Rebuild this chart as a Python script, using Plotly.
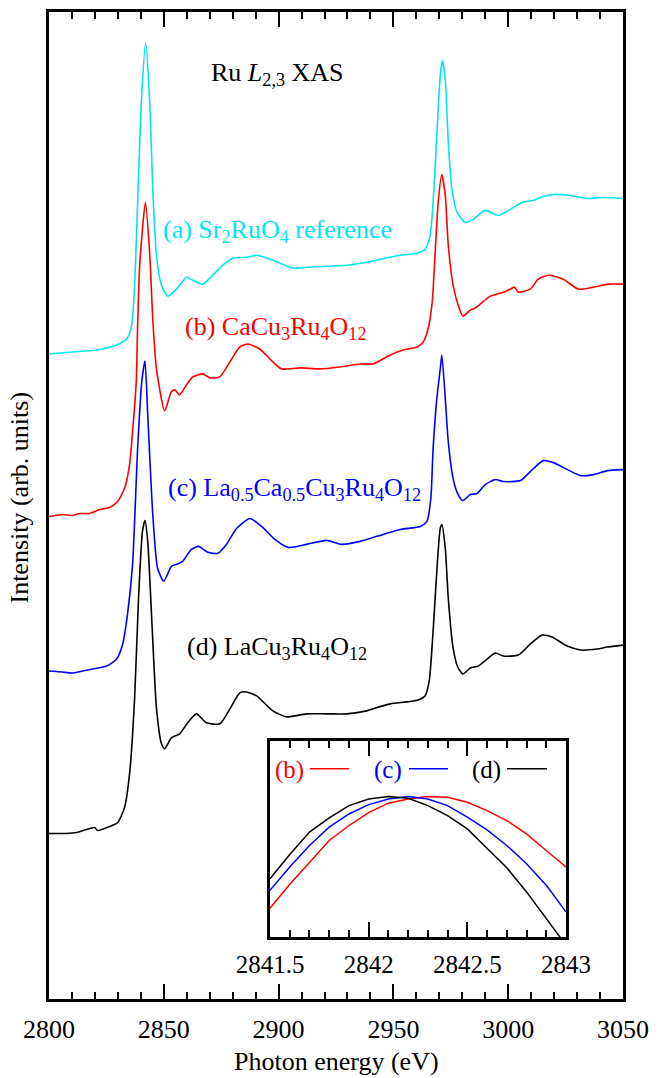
import plotly.graph_objects as go

# ---------------- main panel data (photon energy in eV, intensity in arb. units incl. offsets)
energy_a = [2800, 2810.3, 2820.7, 2829.5, 2833.8, 2836.0, 2837.3, 2838.6, 2840.2, 2842.1,
            2843.9, 2845.2, 2846.8, 2849.0, 2851.8, 2855.5, 2859.9, 2862.6, 2867.0, 2871.3,
            2875.7, 2880.1, 2886.2, 2890.5, 2897.5, 2906.2, 2912.3, 2921.1, 2929.8, 2938.5,
            2944.2, 2952.9, 2960.3, 2963.8, 2966.0, 2967.3, 2968.9, 2970.4, 2971.4, 2972.6,
            2974.0, 2975.5, 2977.7, 2981.3, 2984.8, 2990.0, 2995.7, 3000.9, 3006.0, 3011.0,
            3015.3, 3019.7, 3027.1, 3034.5, 3041.5, 3050]
intensity_a = [6.45, 6.47, 6.49, 6.54, 6.60, 6.74, 7.14, 7.97, 8.97, 9.57,
               8.97, 8.10, 7.44, 7.14, 7.03, 7.10, 7.22, 7.19, 7.15, 7.24,
               7.34, 7.41, 7.42, 7.44, 7.39, 7.31, 7.32, 7.33, 7.34, 7.37,
               7.40, 7.44, 7.46, 7.50, 7.64, 7.97, 8.64, 9.24, 9.39, 9.20,
               8.54, 8.10, 7.87, 7.77, 7.80, 7.89, 7.84, 7.90, 7.97, 7.99,
               8.03, 8.05, 8.04, 8.01, 8.02, 8.01]

energy_b = [2800, 2805.9, 2810.3, 2813.3, 2817.7, 2822.0, 2826.4, 2829.9, 2832.9, 2835.1,
            2836.4, 2838.0, 2838.5, 2839.5, 2842.0, 2843.9, 2845.2, 2846.8, 2850.4, 2853.3,
            2854.8, 2856.9, 2859.9, 2862.6, 2867.0, 2870.0, 2874.4, 2878.8, 2883.1, 2886.6,
            2891.8, 2897.5, 2901.3, 2909.3, 2918.0, 2926.7, 2935.5, 2941.1, 2948.6, 2954.2,
            2960.3, 2963.0, 2965.1, 2966.9, 2968.2, 2969.5, 2971.1, 2972.6, 2973.9, 2976.0,
            2978.2, 2980.3, 2983.5, 2985.6, 2987.8, 2992.2, 2997.9, 3000.9, 3002.7, 3004.4,
            3009.6, 3013.1, 3017.5, 3024.0, 3030.6, 3037.1, 3043.7, 3050]
intensity_b = [4.82, 4.84, 4.83, 4.85, 4.85, 4.89, 4.91, 4.97, 5.10, 5.34,
               5.67, 6.17, 6.64, 7.34, 7.97, 7.44, 6.80, 6.30, 5.88, 6.07,
               6.09, 6.04, 6.14, 6.22, 6.25, 6.21, 6.22, 6.37, 6.52, 6.55,
               6.50, 6.37, 6.30, 6.31, 6.30, 6.32, 6.35, 6.35, 6.44, 6.49,
               6.52, 6.57, 6.70, 6.97, 7.47, 7.97, 8.25, 8.04, 7.54, 7.14,
               6.94, 6.83, 6.89, 6.91, 6.95, 7.03, 7.07, 7.10, 7.12, 7.07,
               7.10, 7.20, 7.24, 7.20, 7.10, 7.12, 7.15, 7.15]

energy_c = [2800, 2805.9, 2809.8, 2814.6, 2819.0, 2825.1, 2829.5, 2832.1, 2834.2, 2836.4,
            2838.6, 2840.4, 2841.8, 2843.0, 2845.2, 2847.3, 2850.0, 2853.3, 2855.5, 2858.2,
            2862.0, 2865.2, 2869.2, 2873.5, 2877.3, 2881.7, 2887.5, 2892.6, 2898.4, 2904.1,
            2912.2, 2920.9, 2927.5, 2935.5, 2945.5, 2952.9, 2961.7, 2964.6, 2966.3, 2967.3,
            2968.9, 2970.4, 2971.1, 2972.6, 2973.9, 2976.0, 2978.2, 2980.3, 2983.5, 2986.4,
            2990.0, 2994.4, 2997.9, 3005.3, 3009.6, 3015.3, 3019.7, 3025.8, 3031.5, 3037.1,
            3043.2, 3050]
intensity_c = [3.27, 3.26, 3.25, 3.27, 3.29, 3.32, 3.39, 3.54, 3.84, 4.34,
               5.50, 6.17, 6.38, 5.84, 4.84, 4.30, 4.17, 4.32, 4.34, 4.37,
               4.49, 4.52, 4.46, 4.45, 4.54, 4.70, 4.80, 4.72, 4.59, 4.51,
               4.54, 4.58, 4.54, 4.57, 4.64, 4.69, 4.72, 4.77, 5.00, 5.50,
               6.00, 6.30, 6.44, 6.00, 5.57, 5.20, 5.04, 4.98, 5.04, 5.05,
               5.14, 5.19, 5.17, 5.18, 5.27, 5.38, 5.36, 5.29, 5.23, 5.24,
               5.28, 5.29]

energy_d = [2800, 2807.6, 2812.0, 2817.7, 2819.9, 2821.2, 2826.4, 2829.9, 2832.9, 2835.1,
            2837.3, 2839.0, 2840.7, 2841.8, 2843.0, 2845.0, 2846.8, 2849.0, 2850.4, 2853.3,
            2856.9, 2860.4, 2864.2, 2868.6, 2874.4, 2878.8, 2883.1, 2886.0, 2890.4, 2897.5,
            2903.5, 2912.2, 2920.9, 2929.7, 2938.4, 2941.1, 2948.6, 2955.8, 2960.8, 2963.8,
            2965.6, 2967.3, 2969.1, 2970.4, 2971.1, 2972.6, 2973.9, 2976.0, 2978.2, 2980.3,
            2983.5, 2987.0, 2990.8, 2994.4, 2997.9, 3004.4, 3009.6, 3014.7, 3019.1, 3025.7,
            3031.5, 3038.7, 3043.1, 3050]
intensity_d = [1.64, 1.64, 1.65, 1.69, 1.70, 1.67, 1.71, 1.75, 1.90, 2.24,
               3.00, 4.00, 4.67, 4.78, 4.57, 3.67, 2.90, 2.54, 2.49, 2.60,
               2.64, 2.75, 2.84, 2.75, 2.74, 2.89, 3.05, 3.06, 3.02, 2.87,
               2.81, 2.84, 2.84, 2.84, 2.87, 2.89, 2.94, 2.96, 2.98, 3.02,
               3.17, 3.67, 4.34, 4.70, 4.74, 4.50, 4.00, 3.50, 3.30, 3.24,
               3.30, 3.32, 3.39, 3.45, 3.42, 3.43, 3.54, 3.63, 3.61, 3.52,
               3.48, 3.49, 3.51, 3.53]

series_labels = ["(a) Sr<sub>2</sub>RuO<sub>4</sub> reference",
                 "(b) CaCu<sub>3</sub>Ru<sub>4</sub>O<sub>12</sub>",
                 "(c) La<sub>0.5</sub>Ca<sub>0.5</sub>Cu<sub>3</sub>Ru<sub>4</sub>O<sub>12</sub>",
                 "(d) LaCu<sub>3</sub>Ru<sub>4</sub>O<sub>12</sub>"]
series_colors = ["#00E5EE", "#FF0000", "#0000FF", "#000000"]

# ---------------- inset data (L3 peak top, normalised)
inset_energy = [2841.5, 2841.6, 2841.7, 2841.8, 2841.9, 2842.0, 2842.1, 2842.2,
                2842.3, 2842.4, 2842.5, 2842.6, 2842.7, 2842.8, 2842.9, 2843.0]
inset_b = [0.944, 0.956, 0.967, 0.978, 0.9855, 0.992, 0.9967, 0.9988,
           1.000, 0.9997, 0.9972, 0.993, 0.988, 0.9813, 0.973, 0.9647]
inset_c = [0.953, 0.9647, 0.9755, 0.9847, 0.9913, 0.996, 0.9988, 1.000,
           0.9988, 0.9955, 0.9897, 0.9833, 0.9755, 0.9663, 0.9555, 0.9422]
inset_d = [0.9588, 0.971, 0.9822, 0.9893, 0.9955, 0.9988, 1.000, 0.9992,
           0.9955, 0.9905, 0.9838, 0.9738, 0.9643, 0.9522, 0.9388, 0.9255]
inset_labels = ["(b)", "(c)", "(d)"]

FONT = "'Liberation Serif', 'Times New Roman', Times, 'DejaVu Serif', serif"
W, H = 670, 1078
L, R, T, B = 49, 47, 9, 79


def px(x):
    return (x - L) / (W - L - R)


def py(y):
    return (H - B - y) / (H - T - B)


fig = go.Figure()
main = [(energy_a, intensity_a), (energy_b, intensity_b), (energy_c, intensity_c), (energy_d, intensity_d)]
for (e, i), col in zip(main, series_colors):
    fig.add_trace(go.Scatter(x=e, y=i, mode="lines", line=dict(color=col, width=1.6, shape="spline", smoothing=0.6),
                             xaxis="x", yaxis="y", hoverinfo="skip"))

for vals, col in zip([inset_b, inset_c, inset_d], series_colors[1:]):
    fig.add_trace(go.Scatter(x=inset_energy, y=vals, mode="lines", line=dict(color=col, width=1.5),
                             xaxis="x2", yaxis="y2", cliponaxis=True, hoverinfo="skip"))

axis_common = dict(showline=True, linecolor="black", linewidth=2.6, showgrid=False, zeroline=False)

fig.update_layout(
    width=W, height=H,
    margin=dict(l=L, r=R, t=T, b=B),
    plot_bgcolor="white", paper_bgcolor="white",
    showlegend=False,
    separators=".",
    font=dict(family=FONT, size=26, color="black"),
    xaxis=dict(axis_common, range=[2800, 3050], mirror="ticks", ticks="inside", ticklen=15, tickwidth=2,
               tickcolor="black", tick0=2800, dtick=50, tickformat="d", tickfont=dict(family=FONT, size=26),
               ticklabelstandoff=5,
               minor=dict(dtick=10, ticks="inside", ticklen=7, tickwidth=2, tickcolor="black", showgrid=False)),
    yaxis=dict(axis_common, range=[-0.02, 9.88], mirror=True, ticks="", showticklabels=False),
    xaxis2=dict(axis_common, domain=[px(270), px(566)], anchor="y2", range=[2841.4999, 2843.0001],
                mirror="ticks", ticks="inside", ticklen=15, tickwidth=2, tickcolor="black",
                tick0=2841.5, dtick=0.5, tickformat=".1~f", tickfont=dict(family=FONT, size=25),
                ticklabelstandoff=3,
                minor=dict(dtick=0.1, ticks="inside", ticklen=7, tickwidth=2, tickcolor="black", showgrid=False)),
    yaxis2=dict(axis_common, domain=[py(937), py(740)], anchor="x2", range=[0.9295, 1.028],
                mirror=True, ticks="", showticklabels=False),
)

annotations = []
annotations.append(dict(text="Ru <i>L</i><sub>2,3</sub> XAS", x=px(209), y=py(71), xref="paper", yref="paper",
                        xanchor="left", yanchor="middle", showarrow=False,
                        font=dict(family=FONT, size=26, color="black")))
label_pos = [(161, 229), (183, 326), (166, 487), (185, 647)]
for txt, col, (lx, ly) in zip(series_labels, series_colors, label_pos):
    annotations.append(dict(text=txt, x=px(lx), y=py(ly), xref="paper", yref="paper", xanchor="left",
                            yanchor="middle", showarrow=False, font=dict(family=FONT, size=26, color=col)))
annotations.append(dict(text="Photon energy (eV)", x=px(336), y=py(1062), xref="paper", yref="paper",
                        xanchor="center", yanchor="middle", showarrow=False, font=dict(family=FONT, size=26)))
annotations.append(dict(text="Intensity (arb. units)", x=px(20), y=py(496), xref="paper", yref="paper",
                        xanchor="center", yanchor="middle", textangle=-90, showarrow=False,
                        font=dict(family=FONT, size=26)))
shapes = []
legend_pos = [(273, 310, 349), (372, 409, 448), (470, 507, 547)]
for txt, col, (tx, l0, l1) in zip(inset_labels, series_colors[1:], legend_pos):
    annotations.append(dict(text=txt, x=px(tx), y=py(769), xref="paper", yref="paper", xanchor="left",
                            yanchor="middle", showarrow=False, font=dict(family=FONT, size=25, color=col)))
    shapes.append(dict(type="line", xref="paper", yref="paper", x0=px(l0), x1=px(l1), y0=py(768), y1=py(768),
                       line=dict(color=col, width=1.5)))

fig.update_layout(annotations=annotations, shapes=shapes)
fig.write_html("out.html")
